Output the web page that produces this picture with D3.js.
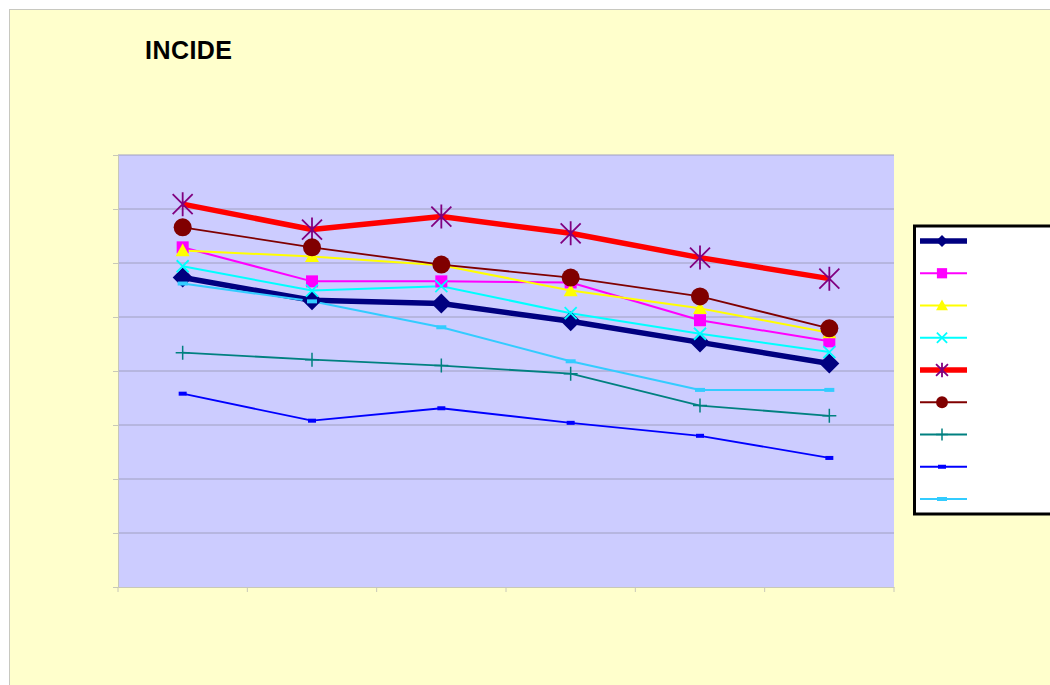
<!DOCTYPE html>
<html><head><meta charset="utf-8">
<script src="https://cdn.jsdelivr.net/npm/d3@7"></script>
<style>
html,body{margin:0;padding:0;background:#fff;}
svg{display:block;}
</style></head>
<body>
<svg id="chart" width="1050" height="685"></svg>
<script>
const title = "INCIDE";
const categories = ["1","2","3","4","5","6"];
const yTicks = [0,1,2,3,4,5,6,7,8];
const s1 = [5.73,5.31,5.25,4.92,4.53,4.14];
const s2 = [6.29,5.66,5.66,5.64,4.94,4.55];
const s3 = [6.23,6.12,5.96,5.49,5.16,4.71];
const s4 = [5.94,5.49,5.57,5.07,4.69,4.35];
const s5 = [7.09,6.62,6.86,6.55,6.10,5.71];
const s6 = [6.66,6.29,5.97,5.73,5.38,4.79];
const s7 = [4.34,4.21,4.10,3.95,3.36,3.17];
const s8 = [3.58,3.08,3.31,3.04,2.80,2.39];
const s9 = [5.62,5.29,4.81,4.18,3.65,3.65];

const series = [
  {values:s1, color:"#000080", width:5.5, marker:"diamond", mcolor:"#000080", size:10},
  {values:s2, color:"#FF00FF", width:2, marker:"square", mcolor:"#FF00FF", size:6},
  {values:s3, color:"#FFFF00", width:2, marker:"triangle", mcolor:"#FFFF00", size:7},
  {values:s4, color:"#00FFFF", width:2, marker:"x", mcolor:"#00FFFF", size:6},
  {values:s5, color:"#FF0000", width:5.5, marker:"star", mcolor:"#800080", size:10},
  {values:s6, color:"#800000", width:1.8, marker:"circle", mcolor:"#800000", size:9},
  {values:s7, color:"#008080", width:1.8, marker:"plus", mcolor:"#008080", size:7},
  {values:s8, color:"#0000FF", width:1.8, marker:"dash", mcolor:"#0000FF", size:4},
  {values:s9, color:"#33CCFF", width:2, marker:"dash", mcolor:"#33CCFF", size:5}
];

const svg = d3.select("#chart");
svg.append("rect").attr("x",9.5).attr("y",9.5).attr("width",1050).attr("height",690)
  .attr("fill","#FFFFCC").attr("stroke","#C8C8C0").attr("stroke-width",1);

svg.append("text").attr("x",145).attr("y",59).text(title)
  .attr("font-family","Liberation Sans, Arial, sans-serif").attr("font-weight","bold")
  .attr("font-size",25).attr("fill","#000").attr("textLength",87);

const L=118, R=894, T=155, B=587;
const x = d3.scaleBand().domain(categories).range([L,R]);
const y = d3.scaleLinear().domain([0,8]).range([B,T]);

svg.append("rect").attr("x",L).attr("y",T).attr("width",R-L).attr("height",B-T).attr("fill","#CCCCFF");

svg.append("g").selectAll("line").data(yTicks.slice(1)).join("line")
  .attr("x1",L).attr("x2",R).attr("y1",d=>y(d)).attr("y2",d=>y(d))
  .attr("stroke","#A0A0C0").attr("stroke-width",1);

const yAxis = svg.append("g").attr("transform",`translate(${L},0)`)
  .call(d3.axisLeft(y).tickValues(yTicks).tickSize(5).tickFormat(""));
const xAxis = svg.append("g").attr("transform",`translate(0,${B})`)
  .call(d3.axisBottom(x).tickSize(0).tickFormat(""));
xAxis.selectAll("line.edge").data(categories.concat(["end"])).join("line")
  .attr("x1",(d,i)=>L+i*x.step()).attr("x2",(d,i)=>L+i*x.step()).attr("y1",0).attr("y2",5);
[yAxis,xAxis].forEach(g=>{g.selectAll("path,line").attr("stroke","#C8C8B8").attr("stroke-width",1);});

const cx = (i)=>x(categories[i])+x.bandwidth()/2;
const line = d3.line().x((d,i)=>cx(i)).y(d=>y(d));

function drawMarker(g, type, px, py, s, color){
  if(type==="diamond"){
    g.append("path").attr("d",`M${px},${py-s}L${px+s},${py}L${px},${py+s}L${px-s},${py}Z`).attr("fill",color);
  } else if(type==="square"){
    g.append("rect").attr("x",px-s).attr("y",py-s).attr("width",2*s).attr("height",2*s).attr("fill",color);
  } else if(type==="triangle"){
    g.append("path").attr("d",`M${px},${py-s}L${px+s},${py+s*0.8}L${px-s},${py+s*0.8}Z`).attr("fill",color);
  } else if(type==="x"){
    g.append("path").attr("d",`M${px-s},${py-s}L${px+s},${py+s}M${px+s},${py-s}L${px-s},${py+s}`).attr("stroke",color).attr("stroke-width",1.8);
  } else if(type==="star"){
    g.append("path").attr("d",`M${px-s},${py-s}L${px+s},${py+s}M${px+s},${py-s}L${px-s},${py+s}M${px},${py-s*1.2}L${px},${py+s*1.2}`).attr("stroke",color).attr("stroke-width",1.8);
  } else if(type==="circle"){
    g.append("circle").attr("cx",px).attr("cy",py).attr("r",s).attr("fill",color);
  } else if(type==="plus"){
    g.append("path").attr("d",`M${px-s},${py}L${px+s},${py}M${px},${py-s}L${px},${py+s}`).attr("stroke",color).attr("stroke-width",1.5);
  } else if(type==="dash"){
    g.append("rect").attr("x",px-s).attr("y",py-2).attr("width",2*s).attr("height",4).attr("fill",color);
  }
}

const plot = svg.append("g");
series.forEach(s=>{
  plot.append("path").datum(s.values).attr("d",line).attr("fill","none")
    .attr("stroke",s.color).attr("stroke-width",s.width).attr("stroke-linejoin","round");
});
series.forEach(s=>{
  const g = plot.append("g");
  s.values.forEach((v,i)=>drawMarker(g,s.marker,cx(i),y(v),s.size,s.mcolor));
});

const lg = svg.append("g");
lg.append("rect").attr("x",914.5).attr("y",226).attr("width",150).attr("height",288)
  .attr("fill","#FFFFFF").attr("stroke","#000").attr("stroke-width",3);
const ly = d3.scalePoint().domain(d3.range(series.length)).range([241,499]);
series.forEach((s,i)=>{
  const yy = ly(i);
  lg.append("line").attr("x1",920).attr("x2",967).attr("y1",yy).attr("y2",yy)
    .attr("stroke",s.color).attr("stroke-width",s.width);
  drawMarker(lg,s.marker,942,yy,Math.min(s.size,7)*(s.marker==="dash"?1:0.85),s.mcolor);
});
</script>
</body></html>
